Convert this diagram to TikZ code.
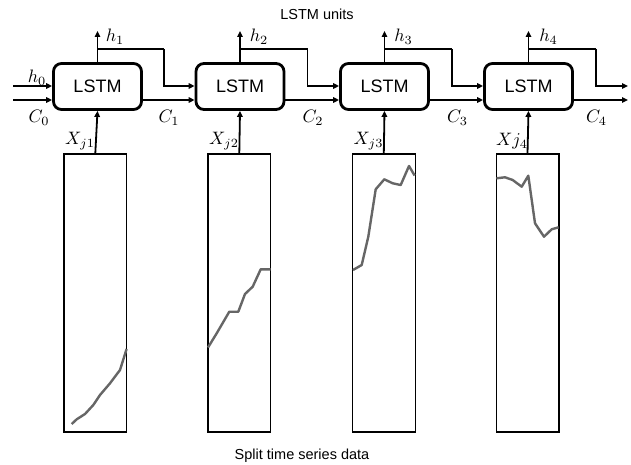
\documentclass[tikz,border=0pt]{standalone}
\usepackage{fontspec}
\setmainfont{Liberation Sans}
\usetikzlibrary{arrows.meta}
\begin{document}
\begin{tikzpicture}[x=1pt,y=-1pt,
  lstm/.style={draw, line width=2.8pt, rounded corners=8pt, minimum width=88pt, minimum height=46pt, inner sep=0pt, font=\fontsize{18}{20}\selectfont},
  series/.style={draw, line width=1.2pt, minimum width=62.8pt, minimum height=278pt, inner sep=0pt},
  conn/.style={line width=1.8pt, -{Triangle[length=6pt,width=5.5pt]}},
  wire/.style={line width=1.8pt},
  lab/.style={font=\normalsize, inner sep=0pt, scale=1.8},
  title/.style={font=\fontsize{14.5}{16}\selectfont, inner sep=0pt},
  curve/.style={line width=2.4pt, draw=black!60, line join=round}
]
\useasboundingbox (0,0) rectangle (631,465);

\node[title] (t1) at (317,14) {LSTM units};
\node[title] (t2) at (302,456) {Split time series data};

\node[lstm] (L1) at (97.5,86.5) {LSTM};
\node[lstm] (L2) at (240,86.5) {LSTM};
\node[lstm] (L3) at (384.5,86.5) {LSTM};
\node[lstm] (L4) at (528.5,86.5) {LSTM};

\node[series] (S1) at (95.3,293) {};
\node[series] (S2) at (239.3,293) {};
\node[series] (S3) at (383.8,293) {};
\node[series] (S4) at (527.5,293) {};

% time series curves
\draw[curve] (71.7,424) -- (76.7,419.3) -- (85,414) -- (93.3,405) -- (100,395) -- (110,383.3) -- (120,370) -- (126.6,349);
\draw[curve] (208,347.5) -- (216.7,333.3) -- (229.3,311.7) -- (238.3,311.7) -- (245,294) -- (252.7,286.7) -- (260.7,269.3) -- (270.7,269.3);
\draw[curve] (353,270) -- (361.7,265) -- (368.3,236.7) -- (375.7,189.3) -- (384.3,179.3) -- (392.7,183.3) -- (400.7,185) -- (409,166) -- (414.6,175.5);
\draw[curve] (496.4,178.3) -- (505,177.3) -- (512.7,180) -- (521.7,186.7) -- (528.3,175.7) -- (535,223.3) -- (544,236.7) -- (551.7,229.3) -- (558.6,227.3);

% inputs to first unit
\coordinate (h0s) at (13,86);
\coordinate (c0s) at (13,100);
\draw[conn] (h0s) -- (h0s -| L1.west);
\draw[conn] (c0s) -- (c0s -| L1.west);

% inputs X
\draw[conn] (S1.north) -- (L1.south);
\draw[conn] (S2.north) -- (L2.south);
\draw[conn] (S3.north) -- (L3.south);
\draw[conn] (S4.north) -- (L4.south);

% h outputs upward
\foreach \i in {1,2,3,4}{
  \coordinate (hT\i) at (L\i.north |- 0,31);
  \draw[conn] (L\i.north) -- (hT\i);
}

% h recurrent branches
\coordinate (b1) at (164,49);
\coordinate (b2) at (307.5,49);
\coordinate (b3) at (452,49);
\coordinate (b4) at (596,49);
\draw[wire] (L1.north |- b1) -- (b1);
\draw[conn] (b1) -- (b1 |- 0,86) -- (L2.west |- 0,86);
\draw[wire] (L2.north |- b2) -- (b2);
\draw[conn] (b2) -- (b2 |- 0,86) -- (L3.west |- 0,86);
\draw[wire] (L3.north |- b3) -- (b3);
\draw[conn] (b3) -- (b3 |- 0,86) -- (L4.west |- 0,86);
\coordinate (hEnd) at (628,86);
\draw[wire] (L4.north |- b4) -- (b4);
\draw[conn] (b4) -- (b4 |- hEnd) -- (hEnd);

% C connections
\draw[conn] (L1.east |- 0,100) -- (L2.west |- 0,100);
\draw[conn] (L2.east |- 0,100) -- (L3.west |- 0,100);
\draw[conn] (L3.east |- 0,100) -- (L4.west |- 0,100);
\coordinate (cEnd) at (628,100);
\draw[conn] (L4.east |- cEnd) -- (cEnd);

% labels
\node[lab] (lh0) at (37,78) {$h_0$};
\node[lab] (lc0) at (39,118) {$C_0$};
\node[lab] (lh1) at (115,37) {$h_1$};
\node[lab] (lh2) at (259,37) {$h_2$};
\node[lab] (lh3) at (403.5,37) {$h_3$};
\node[lab] (lh4) at (548.5,37) {$h_4$};
\node[lab] (lc1) at (169,118) {$C_1$};
\node[lab] (lc2) at (313,118) {$C_2$};
\node[lab] (lc3) at (457.5,118) {$C_3$};
\node[lab] (lc4) at (596.5,118) {$C_4$};
\node[lab] (lx1) at (80,141) {$X_{j1}$};
\node[lab] (lx2) at (224,141) {$X_{j2}$};
\node[lab] (lx3) at (368.5,141) {$X_{j3}$};
\node[lab] (lx4) at (512,141) {$Xj_4$};
\end{tikzpicture}
\end{document}
